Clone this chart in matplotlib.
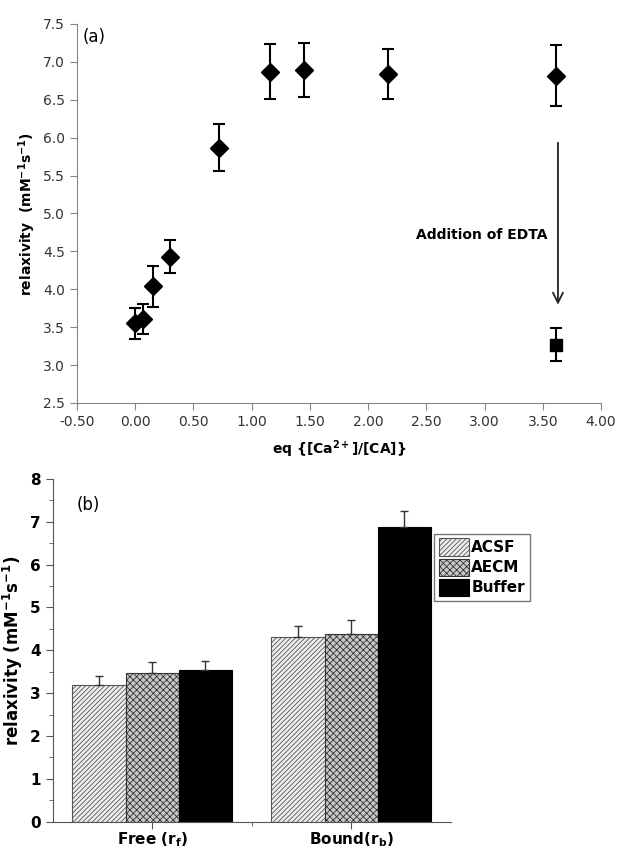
import numpy as np
import matplotlib
matplotlib.use("Agg")
import matplotlib.pyplot as plt
from matplotlib.ticker import MultipleLocator, FormatStrFormatter

# =========================
# Dados - painel (a)
# =========================
ca_ratio = [0.00, 0.07, 0.15, 0.30, 0.72, 1.16, 1.45, 2.17, 3.61]
relax_a = [3.55, 3.61, 4.04, 4.43, 5.87, 6.87, 6.89, 6.84, 6.82]
err_a = [0.20, 0.20, 0.27, 0.22, 0.31, 0.36, 0.36, 0.33, 0.40]

edta_x = [3.61]
edta_y = [3.27]
edta_err = [0.22]

# =========================
# Dados - painel (b)
# =========================
grupos = ["Free (r$_\\mathbf{f}$)", "Bound(r$_\\mathbf{b}$)"]
series = ["ACSF", "AECM", "Buffer"]
valores = {
    "ACSF": [3.18, 4.31],
    "AECM": [3.48, 4.39],
    "Buffer": [3.54, 6.88],
}
erros = {
    "ACSF": [0.23, 0.25],
    "AECM": [0.25, 0.31],
    "Buffer": [0.21, 0.37],
}

fig = plt.figure(figsize=(6.19, 8.5), dpi=100)

# ---- (a) ----
ax1 = fig.add_axes([0.1244, 0.5259, 0.8466, 0.4459])
ax1.errorbar(ca_ratio, relax_a, yerr=err_a, fmt="D", color="black",
             markersize=9, capsize=4, elinewidth=1.5, capthick=1.5)
ax1.errorbar(edta_x, edta_y, yerr=edta_err, fmt="s", color="black",
             markersize=9, capsize=4, elinewidth=1.5, capthick=1.5)
ax1.annotate("", xy=(3.63, 3.76), xytext=(3.63, 5.97),
             arrowprops=dict(arrowstyle="->", color="#222222", lw=1.3,
                             mutation_scale=18))
ax1.text(3.54, 4.72, "Addition of EDTA", ha="right", va="center",
         fontsize=10, fontweight="bold")
ax1.text(-0.45, 7.45, "(a)", ha="left", va="top", fontsize=12)

ax1.set_xlim(-0.5, 4.0)
ax1.set_ylim(2.5, 7.5)
ax1.xaxis.set_major_locator(MultipleLocator(0.5))
ax1.yaxis.set_major_locator(MultipleLocator(0.5))
ax1.xaxis.set_major_formatter(FormatStrFormatter("%.2f"))
ax1.yaxis.set_major_formatter(FormatStrFormatter("%.1f"))
for s in ["top", "right"]:
    ax1.spines[s].set_visible(False)
for s in ["left", "bottom"]:
    ax1.spines[s].set_color("#888888")
ax1.tick_params(direction="out", length=5, color="#888888",
                labelsize=10, labelcolor="#333333")
ax1.set_ylabel("relaxivity  (mM$^{\\mathbf{-1}}$s$^{\\mathbf{-1}}$)",
               fontsize=10, fontweight="bold")
ax1.set_xlabel("eq {[Ca$^{\\mathbf{2+}}$]/[CA]}", fontsize=10,
               fontweight="bold", labelpad=7)

# ---- (b) ----
ax2 = fig.add_axes([0.0851, 0.0333, 0.6430, 0.4032])
x = np.arange(len(grupos))
largura = 0.267
estilos = {
    "ACSF": dict(facecolor="#eeeeee", edgecolor="#555555", hatch="///////"),
    "AECM": dict(facecolor="#c8c8c8", edgecolor="#333333", hatch="xxxxx"),
    "Buffer": dict(facecolor="black", edgecolor="black", hatch=None),
}
plt.rcParams["hatch.linewidth"] = 0.6
for i, nome in enumerate(series):
    pos = x + (i - 1) * largura
    ax2.bar(pos, valores[nome], largura, label=nome, linewidth=0.8,
            **estilos[nome])
    ax2.errorbar(pos, valores[nome], yerr=[np.zeros(len(grupos)), erros[nome]],
                 fmt="none", ecolor="#333333", capsize=3, elinewidth=1,
                 capthick=1)

ax2.text(-0.38, 7.6, "(b)", ha="left", va="top", fontsize=12)
ax2.set_xlim(-0.5, 1.5)
ax2.set_ylim(0, 8)
ax2.set_xticks(x)
ax2.set_xticklabels(grupos, fontsize=9, fontweight="bold")
ax2.set_xticks([0.5], minor=True)
ax2.yaxis.set_major_locator(MultipleLocator(1))
ax2.yaxis.set_minor_locator(MultipleLocator(0.5))
for s in ["top", "right"]:
    ax2.spines[s].set_visible(False)
for s in ["left", "bottom"]:
    ax2.spines[s].set_color("#555555")
ax2.tick_params(which="major", direction="out", length=5, color="#555555",
                labelsize=11)
ax2.tick_params(axis="x", which="major", pad=1.5)
ax2.tick_params(which="minor", direction="out", length=3, color="#555555")
for lbl in ax2.get_yticklabels():
    lbl.set_fontweight("bold")
ax2.set_ylabel("relaxivity (mM$^{\\mathbf{-1}}$s$^{\\mathbf{-1}}$)",
               fontsize=12, fontweight="bold")

leg = ax2.legend(loc="upper left", bbox_to_anchor=(0.958, 0.84),
                 fontsize=11, frameon=True, fancybox=False,
                 handlelength=2.0, handleheight=1.35, handletextpad=0.15,
                 labelspacing=0.2, borderpad=0.3, borderaxespad=0)
leg.get_frame().set_edgecolor("#555555")
for t in leg.get_texts():
    t.set_fontweight("bold")

fig.savefig("out.png", dpi=100)
